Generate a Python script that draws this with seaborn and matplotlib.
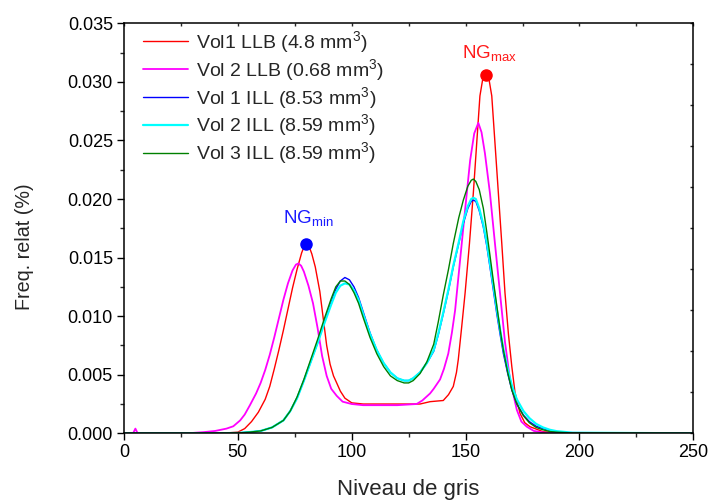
import numpy as np
import pandas as pd
import matplotlib
matplotlib.use("Agg")
import matplotlib.pyplot as plt
import seaborn as sns
from matplotlib.ticker import MultipleLocator, FormatStrFormatter

# ---------------- data ----------------
labels = [r"Vol1 LLB (4.8 mm$^3$)", r"Vol 2 LLB (0.68 mm$^3$)",
          r"Vol 1 ILL (8.53 mm$^3$)", r"Vol 2 ILL (8.59 mm$^3$)",
          r"Vol 3 ILL (8.59 mm$^3$)"]

red_x = [0, 40, 45, 50, 53, 56, 59, 62, 64, 66, 68, 70, 72, 74, 76, 78, 79.2, 80.2, 81.2, 82.5,
         84, 86, 87.5, 89, 90.5, 92, 93.4, 95, 97, 100, 105, 110, 120, 130, 134.4, 140.2, 142.5,
         144.6, 146, 146.8, 148.3, 149.8, 151.7, 153.4, 154.9, 156.3, 157.5, 159, 160.3, 161.5,
         162.9, 164.4, 165.9, 167.3, 168.8, 170.3, 171.7, 173.9, 176, 178.3, 184, 190, 250]
red_y = [0, 0, 0.00003, 0.0001, 0.0004, 0.0010, 0.0018, 0.0029, 0.0040, 0.0055, 0.0071, 0.0088,
         0.0106, 0.0124, 0.0140, 0.0154, 0.0160, 0.0162, 0.0160, 0.0153, 0.0142, 0.0121, 0.0098,
         0.0075, 0.0059, 0.0049, 0.0043, 0.0036, 0.0030, 0.0026, 0.0025, 0.0025, 0.0025, 0.0025,
         0.0027, 0.0028, 0.0033, 0.0040, 0.0052, 0.0063, 0.0091, 0.0120, 0.0162, 0.0205, 0.0248,
         0.0288, 0.0302, 0.0306, 0.0302, 0.0288, 0.0248, 0.0205, 0.0162, 0.0120, 0.0085, 0.0057,
         0.0035, 0.0017, 0.0009, 0.00056, 0.00014, 0.00003, 0]

mag_x = [0, 4, 5, 6, 20, 30, 35, 40, 45, 48, 51, 53, 55.3, 58, 60, 62, 64, 66, 68, 70, 72, 74,
         75.5, 76.6, 77.8, 79, 81, 83, 85, 87, 89, 91, 93.4, 96, 100, 105, 110, 120, 128.5, 131,
         134.4, 136, 138.8, 140.5, 142.4, 144, 145.4, 147.6, 149.8, 152, 153.8, 155.6, 157, 158.5,
         160.7, 162.9, 165.1, 167.3, 169.5, 172.5, 174.5, 176.9, 180, 185, 250]
mag_y = [0, 0, 0.0004, 0, 0, 0.00003, 0.0001, 0.0002, 0.0004, 0.0006, 0.0011, 0.0016, 0.0024,
         0.0034, 0.0043, 0.0054, 0.0067, 0.0082, 0.0098, 0.0114, 0.0128, 0.0139, 0.0144, 0.0145,
         0.0143, 0.0138, 0.0126, 0.0111, 0.0090, 0.0066, 0.0049, 0.0038, 0.0032, 0.0027, 0.0025,
         0.0024, 0.0024, 0.0024, 0.0025, 0.0028, 0.0034, 0.0038, 0.0046, 0.0055, 0.0068, 0.0086,
         0.0105, 0.0148, 0.0191, 0.0233, 0.0256, 0.0265, 0.0257, 0.0239, 0.0205, 0.0162, 0.0120,
         0.0078, 0.0046, 0.0020, 0.0010, 0.00056, 0.0002, 0.00005, 0]

ill_x = [0, 40, 50, 55, 60, 65, 70, 73, 76, 79, 82, 85, 88, 91, 93, 95, 97, 99, 101, 103, 105,
         108, 111, 114, 117, 120, 123, 125, 127, 130, 133, 136, 138, 140.2, 142.5, 144.6, 147, 149,
         151, 152.5, 153.4, 154.5, 156, 157.8, 159.3, 160.7, 162.2, 163.7, 165.2, 166.6, 168.5,
         170.3, 172.5, 175.4, 178, 181, 184, 187, 190, 197, 250]

blue_y = [0, 0, 0.00003, 0.0001, 0.0002, 0.0005, 0.0011, 0.0019, 0.0030, 0.0045, 0.0061, 0.0077,
          0.0095, 0.0112, 0.0123, 0.0130, 0.0133, 0.0131, 0.0125, 0.0116, 0.0104, 0.0086, 0.0071,
          0.0060, 0.0052, 0.0047, 0.0045, 0.0045, 0.0047, 0.0052, 0.0060, 0.0070, 0.0084, 0.0102,
          0.0122, 0.0142, 0.0162, 0.0179, 0.0192, 0.0198, 0.0199, 0.0198, 0.0190, 0.0176, 0.0160,
          0.0142, 0.0122, 0.0102, 0.0084, 0.0068, 0.0051, 0.0037, 0.0025, 0.00156, 0.0010, 0.0006,
          0.0004, 0.00025, 0.00012, 0.00003, 0]

cyan_y = [0, 0, 0.00003, 0.0001, 0.0002, 0.0005, 0.0011, 0.0019, 0.0030, 0.0045, 0.0061, 0.0077,
          0.0094, 0.0110, 0.0120, 0.0126, 0.0128, 0.0127, 0.0122, 0.0114, 0.0102, 0.0085, 0.0071,
          0.0060, 0.0052, 0.0047, 0.0045, 0.0045, 0.0047, 0.0052, 0.0060, 0.0071, 0.0085, 0.0103,
          0.0123, 0.0143, 0.0163, 0.0181, 0.0194, 0.0200, 0.0201, 0.0200, 0.0192, 0.0178, 0.0163,
          0.0145, 0.0126, 0.0106, 0.0088, 0.0072, 0.0055, 0.0041, 0.0029, 0.0019, 0.0013, 0.0008,
          0.0005, 0.0003, 0.00018, 0.00005, 0]

green_y = [0, 0, 0.00003, 0.0001, 0.0002, 0.0005, 0.0011, 0.0019, 0.0031, 0.0046, 0.0063, 0.0080,
           0.0098, 0.0115, 0.0125, 0.0130, 0.0130, 0.0127, 0.0120, 0.0111, 0.0099, 0.0082, 0.0068,
           0.0057, 0.0049, 0.0045, 0.0043, 0.0043, 0.0045, 0.0051, 0.0061, 0.0076, 0.0095, 0.0118,
           0.0140, 0.0162, 0.0184, 0.0199, 0.0211, 0.0216, 0.0217, 0.0215, 0.0208, 0.0192, 0.0172,
           0.0152, 0.0130, 0.0109, 0.0088, 0.0071, 0.0052, 0.0037, 0.0025, 0.0015, 0.0009, 0.0005,
           0.0003, 0.00015, 0.0001, 0.00003, 0]

ng_min = (80, 0.0162)
ng_max = (159, 0.0306)

colors = ["#ff0000", "#ff00ff", "#0000ff", "#00ffff", "#008000"]
widths = [1.0, 1.3, 1.0, 1.6, 1.0]

# ---------------- plotting ----------------
sns.set_style("ticks")
plt.rcParams["font.family"] = ["Liberation Sans", "DejaVu Sans"]
plt.rcParams["mathtext.fontset"] = "custom"
plt.rcParams["mathtext.rm"] = "Liberation Sans"
plt.rcParams["mathtext.it"] = "Liberation Sans:italic"
plt.rcParams["mathtext.bf"] = "Liberation Sans:bold"

fig = plt.figure(figsize=(7.1, 5.0), dpi=100)
ax = fig.add_axes([124 / 710, 1 - 433.3 / 500, (693.3 - 124) / 710, (433.3 - 23.3) / 500])

series = [(red_x, red_y), (mag_x, mag_y), (ill_x, blue_y), (ill_x, cyan_y), (ill_x, green_y)]
for (xs, ys), lab, c, w in zip(series, labels, colors, widths):
    df = pd.DataFrame({"x": xs, "y": ys})
    sns.lineplot(data=df, x="x", y="y", ax=ax, color=c, lw=w, label=lab,
                 estimator=None, sort=False)

ax.plot([ng_min[0]], [ng_min[1]], "o", color="#0000ff", ms=8, zorder=5)
ax.plot([ng_max[0]], [ng_max[1]], "o", color="#ff0000", ms=8, zorder=5)
ax.text(81, 0.01795, r"NG$_{\mathrm{min}}$", color="#1a1aff", fontsize=13.5,
        ha="center", va="baseline")
ax.text(160.5, 0.03204, r"NG$_{\mathrm{max}}$", color="#ff1a1a", fontsize=13.5,
        ha="center", va="baseline")

ax.set_xlim(0, 250)
ax.set_ylim(0, 0.035)
ax.xaxis.set_major_locator(MultipleLocator(50))
ax.xaxis.set_minor_locator(MultipleLocator(25))
ax.yaxis.set_major_locator(MultipleLocator(0.005))
ax.yaxis.set_minor_locator(MultipleLocator(0.0025))
ax.yaxis.set_major_formatter(FormatStrFormatter("%.3f"))
ax.tick_params(which="major", direction="out", length=5, width=1, labelsize=13,
               colors="black", pad=3)
ax.tick_params(which="minor", direction="out", length=3, width=1)
for s in ax.spines.values():
    s.set_visible(True)
    s.set_linewidth(1.1)
    s.set_color("black")

sec_x = ax.secondary_xaxis("top")
sec_x.set_xticks(np.arange(0, 251, 25))
sec_x.tick_params(direction="in", length=2, width=1, labeltop=False)
sec_x.spines["top"].set_visible(False)
sec_y = ax.secondary_yaxis("right")
sec_y.set_yticks(np.arange(0, 0.0351, 0.0035))
sec_y.tick_params(direction="in", length=2, width=1, labelright=False)
sec_y.spines["right"].set_visible(False)

ax.set_xlabel("Niveau de gris", fontsize=16)
ax.set_ylabel("Freq. relat (%)", fontsize=14.2)
ax.xaxis.set_label_coords(0.5, (433.3 - 489) / 410)
ax.xaxis.label.set_verticalalignment("center")
ax.yaxis.set_label_coords((25 - 124) / 569.3, (433.3 - 247) / 410)
ax.yaxis.label.set_verticalalignment("center")

leg = ax.legend(loc="upper left", bbox_to_anchor=(0.02, 1.005), frameon=False, fontsize=14,
                handlelength=2.3, handletextpad=0.4, labelspacing=0.1, borderaxespad=0.0)

fig.savefig("out.png", dpi=100)
